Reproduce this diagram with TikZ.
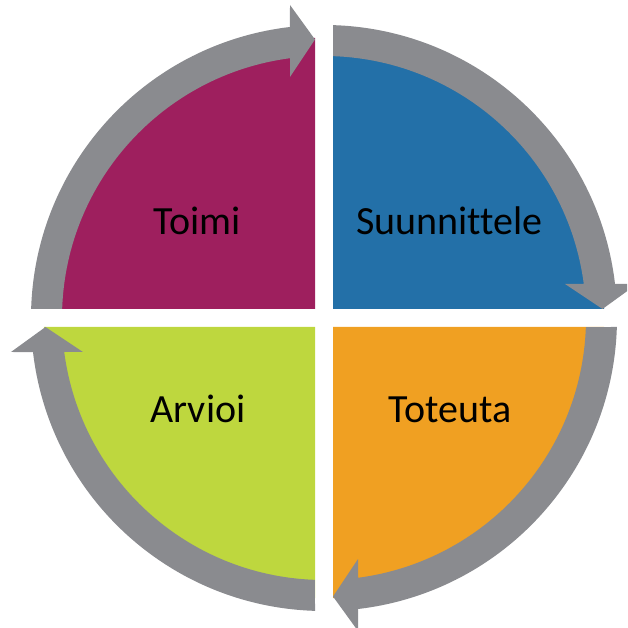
\documentclass[tikz,border=0pt]{standalone}
\usepackage{fontspec}
\setmainfont{Carlito}[Ligatures=NoCommon]
\definecolor{toimic}{RGB}{158,31,94}
\definecolor{suunc}{RGB}{35,112,168}
\definecolor{totc}{RGB}{240,160,34}
\definecolor{arvc}{RGB}{190,215,62}
\definecolor{bandc}{RGB}{138,139,143}
\begin{document}
\begin{tikzpicture}[x=1pt,y=1pt,
  lbl/.style={font=\fontsize{40}{48}\selectfont, text=black, inner sep=0pt, anchor=base},
  bandarrow/.style={fill=bandc}]
\useasboundingbox (-324,-310) rectangle (303,318);
\clip (-324,-310) rectangle (303,318);
% quarter sectors
\fill[suunc] (9,9) -- (9,280) arc[start angle=90,end angle=0,radius=271] -- cycle;
\fill[toimic] (-9,9) -- (-280,9) arc[start angle=180,end angle=90,radius=271] -- cycle;
\fill[arvc] (-9,-9) -- (-9,-280) arc[start angle=270,end angle=180,radius=271] -- cycle;
\fill[totc] (9,-9) -- (280,-9) arc[start angle=0,end angle=-90,radius=271] -- cycle;
% circular arrows
\foreach \r in {0,90,180,270}{
  \fill[bandarrow,rotate=\r] (9,292.86) arc[start angle=88.24,end angle=6.665,radius=293]
    -- (313,34) -- (278.5,9) -- (241,34) -- (259.78,34)
    arc[start angle=7.457,end angle=88.03,radius=262] -- cycle;
}
% labels
\node[lbl] (toimi) at (-127,83) {Toimi};
\node[lbl] (suunnittele) at (125.5,83) {Suunnittele};
\node[lbl] (arvioi) at (-126,-105) {Arvioi};
\node[lbl] (toteuta) at (126,-105) {Toteuta};
\end{tikzpicture}
\end{document}
